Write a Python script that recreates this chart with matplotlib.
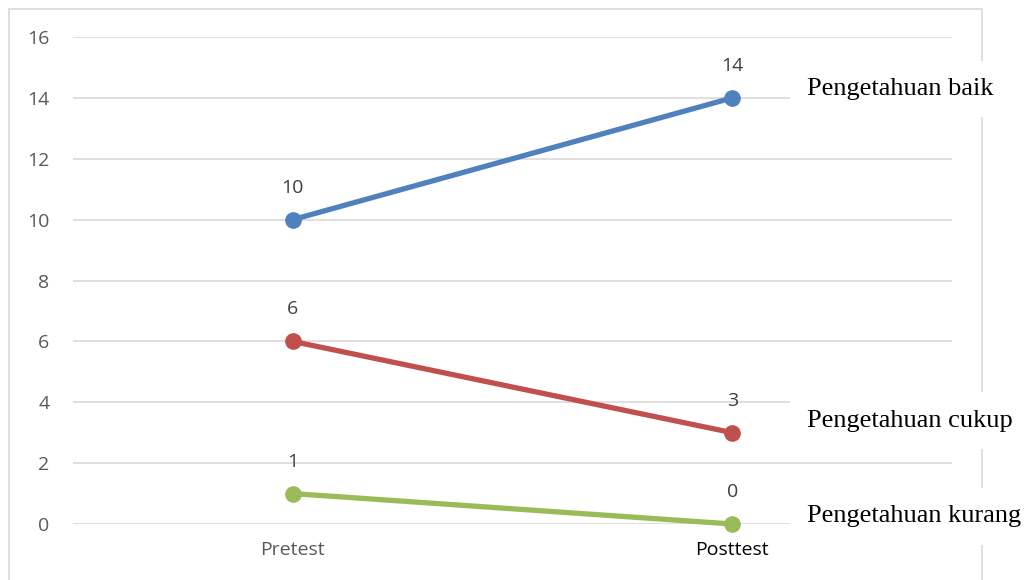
import matplotlib.pyplot as plt
from matplotlib.patches import Rectangle

categories = ["Pretest", "Posttest"]
series_names = ["Pengetahuan baik", "Pengetahuan cukup", "Pengetahuan kurang"]
baik = [10, 14]
cukup = [6, 3]
kurang = [1, 0]
# where each series name sits (data coords, right of the last point)
name_y = [14.3, 3.4, 0.25]

colors = ["#4f81bd", "#c0504d", "#9bbb59"]
grey = "#595959"

fig = plt.figure(figsize=(10.28, 5.8), dpi=100)
ax = fig.add_axes([73 / 1028, 1 - 524 / 580, (952 - 73) / 1028, (524 - 37) / 580])
ax.set_facecolor("none")

# outer chart border
fig.add_artist(Rectangle((9 / 1028, -0.05), (982 - 9) / 1028, 1.05 - 9 / 580,
                         transform=fig.transFigure, fill=False,
                         edgecolor="#d9d9d9", lw=1.2, zorder=-1))

x = list(range(len(categories)))
for vals, c in zip([baik, cukup, kurang], colors):
    ax.plot(x, vals, color=c, lw=3.8, marker="o", markersize=11,
            solid_capstyle="round", zorder=3, clip_on=False)
    for xi, v in zip(x, vals):
        ax.annotate(str(v), (xi, v), xytext=(0, 23), textcoords="offset points",
                    ha="center", va="center", fontsize=14, color="#404040",
                    family="Open Sans")

for name, y in zip(series_names, name_y):
    ax.text(1.17, y, name, ha="left", va="center", fontsize=19,
            family="Liberation Serif", color="black", clip_on=False, zorder=5,
            bbox=dict(boxstyle="square,pad=0.65", facecolor="white", edgecolor="none"))

ax.set_xlim(-0.5, 1.5)
ax.set_ylim(0, 16)
ax.set_yticks(range(0, 17, 2))
ax.set_xticks(x)
ax.set_xticklabels(categories)
ax.grid(axis="y", color="#d9d9d9", lw=1.2)
ax.set_axisbelow(True)
for s in ax.spines.values():
    s.set_visible(False)
ax.tick_params(axis="both", length=0, labelsize=14, labelcolor=grey)
ax.tick_params(axis="y", pad=17)
ax.tick_params(axis="x", pad=12)
for lbl in ax.get_yticklabels() + ax.get_xticklabels():
    lbl.set_family("Open Sans")
ax.get_xticklabels()[1].set_color("black")

fig.savefig("out.png", dpi=100)
